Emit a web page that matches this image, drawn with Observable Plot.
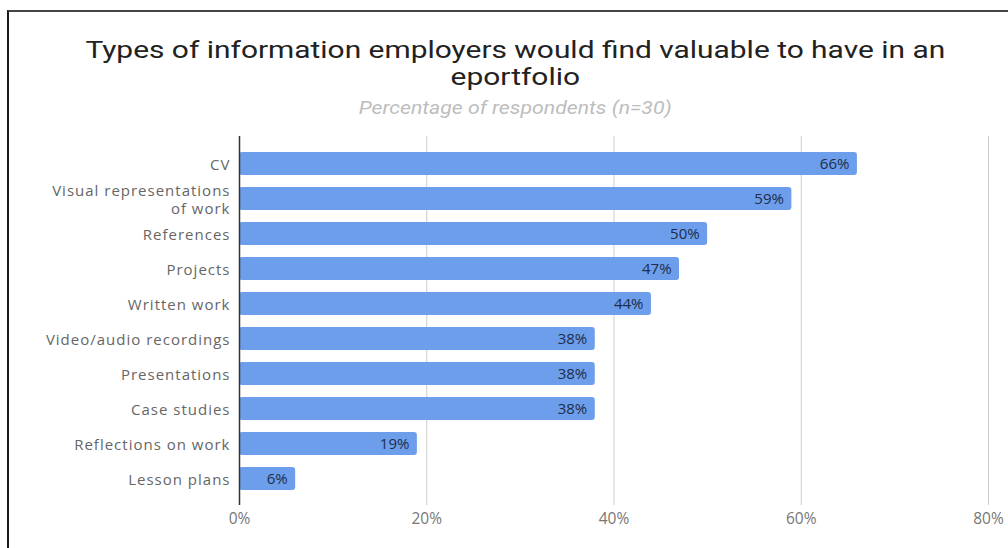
<!DOCTYPE html>
<html>
<head>
<meta charset="utf-8">
<script src="https://cdn.jsdelivr.net/npm/d3@7"></script>
<script src="https://cdn.jsdelivr.net/npm/@observablehq/plot@0.6"></script>
<style>
  html, body { margin: 0; padding: 0; background: #fff; }
  #wrap { position: relative; width: 1008px; height: 548px; overflow: hidden; }
  #frame { position: absolute; left: 7px; top: 10px; width: 1100px; height: 600px;
           border-left: 2px solid #1a1a1a; border-top: 2px solid #444; }
  #chart { position: absolute; left: 0; top: 0; }
  .title { position: absolute; left: 0; width: 1030px; text-align: center;
           font-family: Roboto, sans-serif; color: #222; font-size: 23px; line-height: 26px;
           transform: scaleX(1.3); transform-origin: 514px 0; white-space: nowrap; }
  #sub { position: absolute; left: 0; width: 1030px; text-align: center; top: 98px;
         font-family: Roboto, sans-serif; font-style: italic; color: #bdbdbd; font-size: 18px;
         line-height: 20px; transform: scaleX(1.18); transform-origin: 514px 0; white-space: nowrap; }
  #chart g[aria-label="y-axis tick label"] text { letter-spacing: 1px; }
</style>
</head>
<body>
<div id="wrap">
  <div id="frame"></div>
  <div id="chart"></div>
  <div class="title" style="top:38px">Types of information employers would find valuable to have in an</div>
  <div class="title" style="top:65px">eportfolio</div>
  <div id="sub">Percentage of respondents (n=30)</div>
</div>
<script>
const categories = ["CV", "Visual representations\nof work", "References", "Projects", "Written work",
  "Video/audio recordings", "Presentations", "Case studies", "Reflections on work", "Lesson plans"];
const values = [66, 59, 50, 47, 44, 38, 38, 38, 19, 6];
const xTicks = [0, 20, 40, 60, 80];
const gridTicks = [20, 40, 60, 80];

const data = categories.map((c, i) => ({category: c, value: values[i]}));

const plot = Plot.plot({
  width: 1008,
  height: 548,
  marginLeft: 239,
  marginRight: 20,
  marginTop: 136,
  marginBottom: 43,
  style: {fontFamily: "'Open Sans', sans-serif", fontSize: "15px", color: "#666", background: "transparent"},
  x: {domain: [0, 80]},
  y: {domain: categories, padding: 0.35},
  marks: [
    Plot.ruleX(gridTicks, {stroke: "#cccccc", strokeWidth: 1}),
    Plot.barX(data, {x: "value", y: "category", fill: "#6d9eeb", rx: 3}),
    Plot.ruleX([0], {stroke: "#333", strokeWidth: 1.5}),
    Plot.text(data, {x: "value", y: "category", text: d => d.value + "%", dx: -8,
      textAnchor: "end", fill: "#1d2d4a", fontSize: 15}),
    Plot.axisY({tickSize: 0, tickPadding: 9, lineHeight: 1.2, fill: "#666", fontSize: 15, label: null}),
    Plot.axisX({ticks: xTicks, tickFormat: d => d + "%", tickSize: 0, tickPadding: 7,
      fill: "#777", fontSize: 15.5, label: null})
  ]
});
document.getElementById("chart").appendChild(plot);
</script>
</body>
</html>
